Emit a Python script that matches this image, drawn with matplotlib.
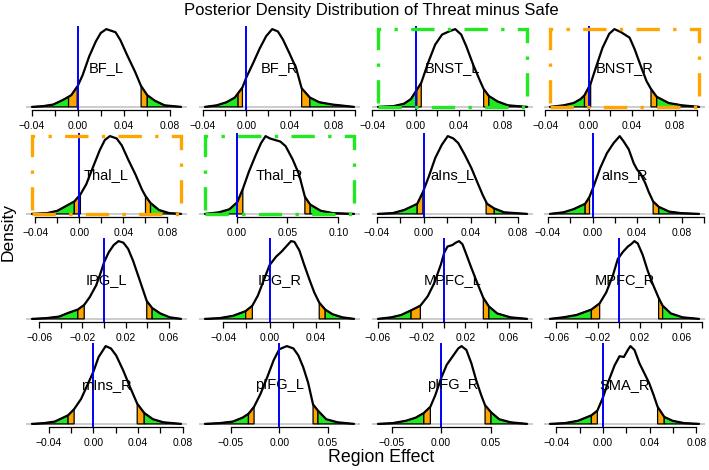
import numpy as np
import matplotlib
matplotlib.use('Agg')
import matplotlib.pyplot as plt
from matplotlib.patches import Rectangle, Polygon

plt.rcParams['font.family'] = ['Liberation Sans', 'DejaVu Sans']

# ── colours ───────────────────────────────────────────────────────────────────
GREEN  = '#22E822'
ORANGE = '#FFA500'
BLUE   = '#0000FF'
GRAY   = '#C8C8C8'

# ── data ──────────────────────────────────────────────────────────────────────
regions = ['BF_L', 'BF_R', 'BNST_L', 'BNST_R',
           'Thal_L', 'Thal_R', 'aIns_L', 'aIns_R',
           'IPG_L', 'IPG_R', 'MPFC_L', 'MPFC_R',
           'mIns_R', 'pIFG_L', 'pIFG_R', 'SMA_R']

# posterior density per region: effect values, density relative to the peak
bf_l_x = [-0.0399, -0.0300, -0.0214, -0.0128, -0.0057, 0.0000, 0.0043, 0.0100, 0.0157, 0.0200,
          0.0249, 0.0329, 0.0371, 0.0429, 0.0500, 0.0551, 0.0606, 0.0671, 0.0757, 0.0900]
bf_l_y = [0, 0.01, 0.03, 0.09, 0.15, 0.27, 0.41, 0.65, 0.84, 0.95,
          1.0, 0.96, 0.86, 0.67, 0.45, 0.27, 0.15, 0.08, 0.02, 0]
bf_r_x = [-0.0380, -0.0273, -0.0182, -0.0106, -0.0036, 0.0000, 0.0061, 0.0122, 0.0182, 0.0237,
          0.0289, 0.0334, 0.0395, 0.0456, 0.0507, 0.0583, 0.0668, 0.0790, 0.0988]
bf_r_y = [0, 0.02, 0.06, 0.12, 0.25, 0.38, 0.56, 0.75, 0.91, 1.0,
          0.97, 0.87, 0.69, 0.50, 0.24, 0.12, 0.06, 0.03, 0]
bnst_l_x = [-0.0348, -0.0204, -0.0109, -0.0045, 0.0010, 0.0051, 0.0115, 0.0179, 0.0243, 0.0307,
            0.0364, 0.0419, 0.0466, 0.0530, 0.0594, 0.0626, 0.0674, 0.0754, 0.0850, 0.1026]
bnst_l_y = [0, 0.01, 0.04, 0.10, 0.22, 0.31, 0.57, 0.80, 0.93, 0.97,
            1.0, 0.93, 0.78, 0.54, 0.33, 0.23, 0.14, 0.07, 0.02, 0]
bnst_r_x = [-0.0358, -0.0232, -0.0138, -0.0075, -0.0038, 0.0019, 0.0066, 0.0129, 0.0191, 0.0239,
            0.0301, 0.0380, 0.0427, 0.0490, 0.0537, 0.0578, 0.0631, 0.0741, 0.0866, 0.1023]
bnst_r_y = [0, 0.02, 0.05, 0.10, 0.15, 0.30, 0.50, 0.76, 0.94, 1.0,
            0.96, 0.89, 0.74, 0.50, 0.33, 0.23, 0.13, 0.05, 0.02, 0]
thal_l_x = [-0.0431, -0.0292, -0.0200, -0.0123, -0.0046, 0.0009, 0.0062, 0.0123, 0.0185, 0.0231,
            0.0277, 0.0338, 0.0385, 0.0446, 0.0508, 0.0569, 0.0600, 0.0646, 0.0723, 0.0815, 0.0923]
thal_l_y = [0, 0.01, 0.04, 0.10, 0.16, 0.25, 0.38, 0.60, 0.82, 0.95,
            1.0, 0.97, 0.88, 0.69, 0.51, 0.31, 0.23, 0.14, 0.05, 0.01, 0]
thal_r_x = [-0.0310, -0.0172, -0.0069, 0.0007, 0.0062, 0.0121, 0.0190, 0.0241, 0.0286, 0.0328,
            0.0379, 0.0431, 0.0483, 0.0552, 0.0614, 0.0672, 0.0724, 0.0828, 0.0948, 0.1155]
thal_r_y = [0, 0.02, 0.06, 0.15, 0.32, 0.54, 0.76, 0.91, 1.0, 0.97,
            0.95, 0.93, 0.87, 0.70, 0.51, 0.22, 0.12, 0.04, 0.01, 0]
ains_l_x = [-0.0389, -0.0264, -0.0167, -0.0097, -0.0056, -0.0008, 0.0042, 0.0097, 0.0153, 0.0203,
            0.0250, 0.0292, 0.0347, 0.0403, 0.0458, 0.0500, 0.0536, 0.0597, 0.0681, 0.0875]
ains_l_y = [0, 0.01, 0.05, 0.10, 0.13, 0.28, 0.48, 0.72, 0.89, 1.0,
            0.97, 0.91, 0.76, 0.59, 0.39, 0.24, 0.13, 0.07, 0.02, 0]
ains_r_x = [-0.0382, -0.0262, -0.0171, -0.0111, -0.0066, -0.0027, 0.0009, 0.0069, 0.0129, 0.0189,
            0.0244, 0.0280, 0.0325, 0.0370, 0.0400, 0.0430, 0.0475, 0.0505, 0.0544, 0.0595,
            0.0686, 0.0791, 0.0956]
ains_r_y = [0, 0.02, 0.06, 0.10, 0.13, 0.22, 0.35, 0.59, 0.78, 0.91,
            1.0, 0.93, 0.83, 0.65, 0.57, 0.52, 0.39, 0.28, 0.16, 0.09,
            0.03, 0.01, 0]
ipg_l_x = [-0.0667, -0.0533, -0.0415, -0.0326, -0.0243, -0.0184, -0.0133, -0.0074, -0.0030, 0.0000,
           0.0044, 0.0089, 0.0133, 0.0178, 0.0222, 0.0267, 0.0326, 0.0394, 0.0444, 0.0519,
           0.0607, 0.0711]
ipg_l_y = [0, 0.01, 0.03, 0.08, 0.12, 0.18, 0.28, 0.43, 0.60, 0.73,
           0.86, 0.95, 1.0, 0.98, 0.90, 0.75, 0.51, 0.23, 0.14, 0.07,
           0.02, 0]
ipg_r_x = [-0.0560, -0.0431, -0.0316, -0.0207, -0.0149, -0.0101, -0.0057, 0.0000, 0.0057, 0.0101,
           0.0144, 0.0187, 0.0216, 0.0259, 0.0302, 0.0345, 0.0388, 0.0431, 0.0483, 0.0546,
           0.0632, 0.0733]
ipg_r_y = [0, 0.01, 0.04, 0.10, 0.17, 0.30, 0.47, 0.69, 0.80, 0.86,
           0.93, 1.0, 0.99, 0.88, 0.69, 0.51, 0.34, 0.21, 0.12, 0.06,
           0.02, 0]
mpfc_l_x = [-0.0600, -0.0479, -0.0388, -0.0297, -0.0212, -0.0145, -0.0085, -0.0024, 0.0006, 0.0036,
            0.0082, 0.0112, 0.0142, 0.0173, 0.0203, 0.0248, 0.0309, 0.0364, 0.0415, 0.0491,
            0.0612, 0.0764]
mpfc_l_y = [0, 0.02, 0.05, 0.11, 0.17, 0.29, 0.46, 0.70, 0.85, 0.93,
            0.95, 0.98, 1.0, 0.96, 0.85, 0.68, 0.46, 0.27, 0.16, 0.07,
            0.02, 0]
mpfc_r_x = [-0.0660, -0.0533, -0.0406, -0.0263, -0.0184, -0.0121, -0.0057, -0.0010, 0.0038, 0.0086,
            0.0117, 0.0149, 0.0181, 0.0229, 0.0276, 0.0324, 0.0381, 0.0419, 0.0498, 0.0610,
            0.0768]
mpfc_r_y = [0, 0.02, 0.05, 0.12, 0.20, 0.34, 0.56, 0.77, 0.86, 0.93,
            0.96, 1.0, 0.97, 0.82, 0.62, 0.45, 0.27, 0.17, 0.07, 0.02,
            0]
mins_r_x = [-0.0549, -0.0439, -0.0345, -0.0226, -0.0172, -0.0110, -0.0047, 0.0000, 0.0047, 0.0110,
            0.0157, 0.0204, 0.0266, 0.0329, 0.0392, 0.0455, 0.0533, 0.0627, 0.0784]
mins_r_y = [0, 0.01, 0.03, 0.11, 0.19, 0.32, 0.52, 0.67, 0.86, 1.0,
            0.97, 0.88, 0.69, 0.47, 0.26, 0.14, 0.06, 0.02, 0]
pifg_l_x = [-0.0769, -0.0617, -0.0481, -0.0380, -0.0319, -0.0261, -0.0193, -0.0125, -0.0058, 0.0000,
            0.0078, 0.0146, 0.0197, 0.0247, 0.0298, 0.0349, 0.0400, 0.0485, 0.0603, 0.0773]
pifg_l_y = [0, 0.01, 0.03, 0.08, 0.13, 0.22, 0.39, 0.60, 0.82, 0.96,
            1.0, 0.97, 0.88, 0.73, 0.53, 0.25, 0.17, 0.06, 0.02, 0]
pifg_r_x = [-0.0637, -0.0488, -0.0356, -0.0257, -0.0175, -0.0109, -0.0059, 0.0000, 0.0056, 0.0122,
            0.0172, 0.0205, 0.0254, 0.0304, 0.0353, 0.0403, 0.0442, 0.0502, 0.0584, 0.0700, 0.0865]
pifg_r_y = [0, 0.01, 0.04, 0.08, 0.14, 0.22, 0.37, 0.59, 0.76, 0.88,
            0.97, 1.0, 0.95, 0.78, 0.56, 0.37, 0.24, 0.15, 0.06, 0.02, 0]
sma_r_x = [-0.0454, -0.0326, -0.0213, -0.0099, -0.0048, 0.0000, 0.0043, 0.0099, 0.0142, 0.0179,
           0.0213, 0.0235, 0.0270, 0.0312, 0.0355, 0.0397, 0.0434, 0.0468, 0.0525, 0.0596,
           0.0695, 0.0823]
sma_r_y = [0, 0.01, 0.04, 0.11, 0.17, 0.34, 0.53, 0.75, 0.87, 0.86,
           0.95, 1.0, 0.95, 0.78, 0.65, 0.52, 0.37, 0.22, 0.09, 0.04,
           0.01, 0]

curves = [(bf_l_x, bf_l_y), (bf_r_x, bf_r_y), (bnst_l_x, bnst_l_y), (bnst_r_x, bnst_r_y),
          (thal_l_x, thal_l_y), (thal_r_x, thal_r_y), (ains_l_x, ains_l_y), (ains_r_x, ains_r_y),
          (ipg_l_x, ipg_l_y), (ipg_r_x, ipg_r_y), (mpfc_l_x, mpfc_l_y), (mpfc_r_x, mpfc_r_y),
          (mins_r_x, mins_r_y), (pifg_l_x, pifg_l_y), (pifg_r_x, pifg_r_y), (sma_r_x, sma_r_y)]

# tail cut points (outer / inner, lower and upper)
q_lo_out = [-0.0080, -0.0076, 0.0010, -0.0038, -0.0046, 0.0007, -0.0056, -0.0066,
            -0.0243, -0.0207, -0.0297, -0.0263, -0.0226, -0.0319, -0.0175, -0.0099]
q_lo_in  = [-0.0005, -0.0036, 0.0051, 0.0019, 0.0009, 0.0062, -0.0008, -0.0027,
            -0.0184, -0.0149, -0.0212, -0.0184, -0.0172, -0.0261, -0.0109, -0.0048]
q_hi_in  = [0.0552, 0.0507, 0.0626, 0.0578, 0.0600, 0.0672, 0.0528, 0.0544,
            0.0394, 0.0431, 0.0364, 0.0381, 0.0392, 0.0349, 0.0442, 0.0468]
q_hi_out = [0.0606, 0.0583, 0.0674, 0.0631, 0.0646, 0.0724, 0.0597, 0.0595,
            0.0444, 0.0483, 0.0415, 0.0419, 0.0455, 0.0400, 0.0502, 0.0525]

box_color = [None, None, GREEN, ORANGE,
             ORANGE, GREEN, None, None,
             None, None, None, None,
             None, None, None, None]

ticks_a = [-0.04, -0.02, 0.0, 0.02, 0.04, 0.06, 0.08]
labels_a = ['\u22120.04', '', '0.00', '', '0.04', '', '0.08']
ticks_b = [-0.04, -0.02, 0.0, 0.02, 0.04, 0.06, 0.08, 0.10]
labels_b = ['\u22120.04', '', '0.00', '', '0.04', '', '0.08', '']
ticks_c = [-0.06, -0.04, -0.02, 0.0, 0.02, 0.04, 0.06]
labels_c = ['\u22120.06', '', '\u22120.02', '', '0.02', '', '0.06']
ticks_d = [-0.04, -0.02, 0.0, 0.02, 0.04, 0.06]
labels_d = ['\u22120.04', '', '0.00', '', '0.04', '']
ticks_e = [-0.06, -0.04, -0.02, 0.0, 0.02, 0.04, 0.06, 0.08]
labels_e = ['\u22120.06', '', '\u22120.02', '', '0.02', '', '0.06', '']
ticks_f = [-0.05, 0.0, 0.05]
labels_f = ['\u22120.05', '0.00', '0.05']
ticks_g = [0.0, 0.05, 0.10]
labels_g = ['0.00', '0.05', '0.10']

panel_ticks = [(ticks_a, labels_a), (ticks_b, labels_b), (ticks_b, labels_b), (ticks_b, labels_b),
               (ticks_a, labels_a), (ticks_g, labels_g), (ticks_a, labels_a), (ticks_b, labels_b),
               (ticks_c, labels_c), (ticks_d, labels_d), (ticks_e, labels_e), (ticks_e, labels_e),
               (ticks_a, labels_a), (ticks_f, labels_f), (ticks_f, labels_f), (ticks_a, labels_a)]

# ── layout (pixels) ───────────────────────────────────────────────────────────
W, H = 709, 470
COL_LEFT = [26, 199, 372, 544]
ROW_TOP = [26, 133, 238, 343]
PW, PH = 161, 84

fig = plt.figure(figsize=(W / 100, H / 100), dpi=100)
fig.patch.set_facecolor('white')

for i, name in enumerate(regions):
    r, c = divmod(i, 4)
    ax = fig.add_axes([COL_LEFT[c] / W, 1 - (ROW_TOP[r] + PH) / H, PW / W, PH / H])
    x = np.array(curves[i][0])
    y = np.array(curves[i][1])
    span = x[-1] - x[0]
    x0, x1 = x[0] - 0.04 * span, x[-1] + 0.04 * span
    ax.set_xlim(x0, x1)
    ax.set_ylim(-0.04, 1.04)

    ax.axhline(0, color=GRAY, lw=1.3, zorder=1)

    tails = [(x[0], q_lo_out[i], GREEN), (q_lo_out[i], q_lo_in[i], ORANGE),
             (q_hi_in[i], q_hi_out[i], ORANGE), (q_hi_out[i], x[-1], GREEN)]
    for lo, hi, col in tails:
        inside = (x > lo) & (x < hi)
        px = np.concatenate([[lo], x[inside], [hi]])
        py = np.interp(px, x, y)
        poly = np.column_stack([np.concatenate([px, [hi, lo]]),
                                np.concatenate([py, [0, 0]])])
        ax.add_patch(Polygon(poly, closed=True, fc=col, ec='black', lw=0.9, zorder=2))

    ax.plot(x, y, color='black', lw=1.6, zorder=3, solid_capstyle='round')
    ax.axvline(0, color=BLUE, lw=1.4, zorder=4)

    if box_color[i]:
        ax.add_patch(Rectangle((x[0], 0), span, 1, fill=False, ec=box_color[i], lw=2.4,
                               ls=(0, (7, 4, 1, 4)), zorder=5, clip_on=False))

    ax.text((x0 + x1) / 2, 0.5, name, ha='center', va='center', fontsize=10.5, zorder=6)

    ticks, labels = panel_ticks[i]
    ax.set_xticks(ticks)
    ax.set_xticklabels(labels)
    ax.set_yticks([])
    for s in ['top', 'left', 'right']:
        ax.spines[s].set_visible(False)
    ax.spines['bottom'].set_bounds(ticks[0], ticks[-1])
    ax.spines['bottom'].set_linewidth(0.9)
    ax.tick_params(axis='x', length=4.5, width=0.9, pad=3.5, labelsize=7.5)
    ax.patch.set_alpha(0)

fig.text(371 / W, 1 - 10 / H, 'Posterior Density Distribution of Threat minus Safe',
         ha='center', va='center', fontsize=12)
fig.text(8 / W, 1 - 232 / H, 'Density', rotation=90, ha='center', va='center', fontsize=12.5)
fig.text(381 / W, 1 - 457 / H, 'Region Effect', ha='center', va='center', fontsize=12.8)

fig.savefig('out.png', dpi=100, facecolor='white')
